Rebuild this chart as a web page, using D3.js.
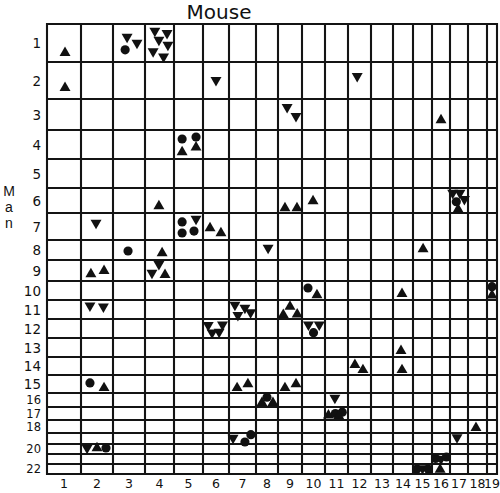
<!DOCTYPE html>
<html><head><meta charset="utf-8">
<script src="https://cdn.jsdelivr.net/npm/d3@7"></script>
<style>body{margin:0;background:#fff}svg{display:block}</style>
</head><body>
<svg id="c" width="500" height="493"></svg>
<script>
// relative chromosome lengths (as drawn)
const mouseChromosomes = ["1","2","3","4","5","6","7","8","9","10","11","12","13","14","15","16","17","18","19"];
const mouseLengths = [34,32,32,29,29,26,27,22,24,23,23,23,22,20,19,18,18,19,10];
const manChromosomes = ["1","2","3","4","5","6","7","8","9","10","11","12","13","14","15","16","17","18","19","20","21","22"];
const manLengths = [38,37,31,29,29,25,27,20,21,19,19,19,19,18,18,14,13,13,11,10,10,10];
const manLabels = ["1","2","3","4","5","6","7","8","9","10","11","12","13","14","15","16","17","18","","20","","22"];
// markers: [mouse chr, man chr, type (u = up triangle, d = down triangle, c = circle), pos along mouse chr, pos along man chr]
const markers = [
 [1,1,'u',0.53,0.76],
 [3,1,'d',0.44,0.34],[3,1,'c',0.38,0.68],[3,1,'d',0.75,0.5],
 [4,1,'d',0.34,0.18],[4,1,'d',0.76,0.24],[4,1,'d',0.48,0.42],[4,1,'d',0.79,0.55],[4,1,'d',0.28,0.72],[4,1,'d',0.64,0.86],
 [1,2,'u',0.53,0.7],
 [6,2,'d',0.5,0.49],
 [12,2,'d',0.4,0.38],
 [9,3,'d',0.38,0.26],[9,3,'d',0.75,0.55],
 [16,3,'u',0.5,0.68],
 [5,4,'c',0.28,0.31],[5,4,'u',0.28,0.76],[5,4,'c',0.76,0.24],[5,4,'u',0.76,0.6],
 [4,6,'u',0.48,0.72],
 [9,6,'u',0.29,0.8],[9,6,'u',0.79,0.8],
 [10,6,'u',0.48,0.52],
 [17,6,'d',0.15,0.2],[17,6,'d',0.55,0.2],[17,6,'d',0.8,0.45],[17,6,'c',0.35,0.55],[17,6,'u',0.45,0.85],
 [2,7,'d',0.47,0.37],
 [5,7,'c',0.28,0.33],[5,7,'d',0.76,0.22],[5,7,'c',0.28,0.74],[5,7,'c',0.69,0.67],
 [6,7,'u',0.27,0.56],[6,7,'u',0.69,0.74],
 [3,8,'c',0.47,0.55],
 [4,8,'u',0.59,0.65],
 [8,8,'d',0.55,0.4],
 [15,8,'u',0.53,0.45],
 [2,9,'u',0.31,0.67],[2,9,'u',0.72,0.52],
 [4,9,'d',0.48,0.2],[4,9,'d',0.24,0.62],[4,9,'u',0.69,0.71],
 [10,10,'c',0.26,0.37],[10,10,'u',0.65,0.74],
 [14,10,'u',0.45,0.68],
 [19,10,'c',0.5,0.3],[19,10,'u',0.5,0.75],
 [2,11,'d',0.28,0.3],[2,11,'d',0.7,0.35],
 [7,11,'d',0.22,0.26],[7,11,'d',0.59,0.42],[7,11,'d',0.33,0.8],[7,11,'d',0.8,0.65],
 [9,11,'u',0.5,0.35],[9,11,'u',0.22,0.78],[9,11,'u',0.8,0.75],
 [6,12,'d',0.2,0.32],[6,12,'d',0.75,0.3],[6,12,'d',0.35,0.72],[6,12,'d',0.62,0.68],
 [10,12,'d',0.28,0.3],[10,12,'d',0.75,0.3],[10,12,'c',0.5,0.72],
 [14,13,'u',0.4,0.68],
 [12,14,'u',0.3,0.44],[12,14,'u',0.65,0.72],
 [14,14,'u',0.45,0.72],
 [2,15,'c',0.28,0.44],[2,15,'u',0.72,0.72],
 [7,15,'u',0.3,0.72],[7,15,'u',0.7,0.5],
 [9,15,'u',0.29,0.72],[9,15,'u',0.75,0.5],
 [8,16,'c',0.5,0.3],[8,16,'u',0.27,0.7],[8,16,'u',0.77,0.7],
 [11,16,'d',0.43,0.35],
 [11,17,'u',0.15,0.65],[11,17,'c',0.45,0.5],[11,17,'c',0.75,0.4],[11,17,'u',0.6,0.7],
 [18,18,'u',0.42,0.6],
 [17,19,'d',0.39,0.4],
 [7,19,'d',0.15,0.45],[7,19,'c',0.59,0.82],[7,19,'c',0.81,0.15],
 [2,20,'d',0.19,0.4],[2,20,'u',0.5,0.4],[2,20,'c',0.78,0.4],
 [16,21,'c',0.2,0.45],[16,21,'d',0.5,0.5],[16,21,'c',0.8,0.3],
 [16,22,'u',0.45,0.55],
 [15,22,'c',0.2,0.5],[15,22,'d',0.5,0.45],[15,22,'c',0.8,0.5]
];

(function () {
const svg = d3.select("#c");
const font = "'DejaVu Sans', sans-serif";
const gLeft = 47, gRight = 497, gTop = 24, gBottom = 474;

const mouseCum = [0]; mouseLengths.forEach(v => mouseCum.push(mouseCum[mouseCum.length-1] + v));
const manCum = [0]; manLengths.forEach(v => manCum.push(manCum[manCum.length-1] + v));
const x = d3.scaleLinear().domain([0, mouseCum[mouseCum.length-1]]).range([gLeft, gRight]);
const y = d3.scaleLinear().domain([0, manCum[manCum.length-1]]).range([gTop, gBottom]);

// grid
const g = svg.append("g").attr("stroke", "#141414").attr("stroke-width", 2.1);
g.selectAll("line.v").data(mouseCum).join("line").attr("class","v")
  .attr("x1", d => x(d)).attr("x2", d => x(d)).attr("y1", gTop - 1).attr("y2", gBottom + 1);
g.selectAll("line.h").data(manCum).join("line").attr("class","h")
  .attr("y1", d => y(d)).attr("y2", d => y(d)).attr("x1", gLeft - 1).attr("x2", gRight + 1);

// column labels
svg.append("g").selectAll("text").data(mouseChromosomes).join("text")
  .attr("x", (d,i) => x((mouseCum[i] + mouseCum[i+1]) / 2))
  .attr("y", 488).attr("text-anchor","middle")
  .attr("font-family", font).attr("font-size", 12.5).attr("fill","#111").text(d => d);

// row labels
svg.append("g").selectAll("text").data(manLabels).join("text")
  .attr("x", 41)
  .attr("y", (d,i) => y((manCum[i] + manCum[i+1]) / 2) + (i >= 15 ? 4 : 5))
  .attr("text-anchor","end")
  .attr("font-family", font).attr("font-size", (d,i) => i >= 15 ? 11.5 : 13.5)
  .attr("fill","#111").text(d => d);

// titles
svg.append("text").attr("x", 219).attr("y", 19).attr("text-anchor","middle")
  .attr("font-family", font).attr("font-size", 20).attr("fill","#111").text("Mouse");
const manTitle = ["M","a","n"];
svg.append("g").selectAll("text").data(manTitle).join("text")
  .attr("x", 9).attr("y", (d,i) => [196, 212, 228][i]).attr("text-anchor","middle")
  .attr("font-family", "'Liberation Sans', sans-serif").attr("font-size", 14)
  .attr("fill","#111").text(d => d);

// markers
const tri = d3.symbol().type(d3.symbolTriangle).size(52);
const circ = d3.symbol().type(d3.symbolCircle).size(66);
svg.append("g").selectAll("path").data(markers).join("path")
  .attr("d", d => d[2] === 'c' ? circ() : tri())
  .attr("transform", d => {
    const cx = x(mouseCum[d[0]-1] + d[3] * mouseLengths[d[0]-1]);
    const cy = y(manCum[d[1]-1] + d[4] * manLengths[d[1]-1]);
    return `translate(${cx},${cy})` + (d[2] === 'd' ? " rotate(180)" : "");
  })
  .attr("fill", "#111");
})();
</script>
</body></html>
